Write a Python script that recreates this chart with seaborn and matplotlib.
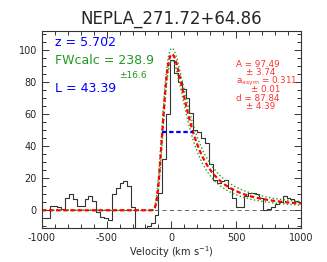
import numpy as np
import pandas as pd
import seaborn as sns
import matplotlib
matplotlib.use("Agg")
import matplotlib.pyplot as plt
from matplotlib.ticker import MultipleLocator

sns.set_theme(style="ticks")
plt.rcParams['font.family'] = ['DejaVu Sans']
plt.rcParams['axes.unicode_minus'] = False

title = 'NEPLA_271.72+64.86'

# observed spectrum, 30 km/s bins starting at -1000
bin_width = 30
flux = [-5, -5, 3, 3, 2, 1, 8, 10, 7, 3, 3, 7, 9, 6, -1, -4, -5, -6,
        10, 14, 17, 18, 15, 2, -20, -20, -20, -10, -8, -3, 11, 32, 60,
        94, 86, 80, 76, 70, 61, 50, 49, 45, 42, 29, 19, 17, 18, 19, 14,
        8, 2, 2, 9, 11, 11, 10, 8, 0, 1, 2, 4, 5, 9, 8, 7, 6, 5]

# asymmetric gaussian fit
amp, amp_err = 97.49, 3.74
a_asym, a_err = 0.311, 0.01
d_par, d_err = 87.84, 4.39
v_peak = 5
z = 5.702
fw_calc, fw_err = 238.9, 16.6
lum = 43.39
fw_left, fw_right = -69, 170


def skew_gauss(v, A, a, d):
    dv = v - v_peak
    sig = a * dv + d
    return A * np.exp(-dv ** 2 / (2 * sig ** 2))


vel = -1000 + bin_width * np.arange(len(flux)) + bin_width / 2
spec = pd.DataFrame({'vel': vel, 'flux': flux})

vgrid = np.linspace(-1000, 1000, 1001)
model = pd.DataFrame({
    'vel': vgrid,
    'fit': skew_gauss(vgrid, amp, a_asym, d_par),
    'hi': skew_gauss(vgrid, amp + amp_err, a_asym + a_err, d_par + d_err),
    'lo': skew_gauss(vgrid, amp - amp_err, a_asym - a_err, d_par - d_err),
})

fig = plt.figure(figsize=(3.27, 2.62), dpi=100)
ax = fig.add_axes([0.128, 0.130, 0.792, 0.752])

sns.lineplot(data=spec, x='vel', y='flux', drawstyle='steps-mid',
             color='0.2', lw=0.8, ax=ax)
ax.axhline(0, color='0.3', lw=0.6, dashes=(5, 4))
for key in ('hi', 'lo'):
    sns.lineplot(data=model, x='vel', y=key, color='#22a022', lw=1.0,
                 linestyle=':', ax=ax)
sns.lineplot(data=model, x='vel', y='fit', color='red', lw=1.6,
             dashes=(2, 1.2), ax=ax)
ax.plot([fw_left, fw_right], [amp / 2, amp / 2], color='blue', lw=1.6,
        dashes=(2, 1.2))

ax.set_xlim(-1000, 1000)
ax.set_ylim(-11, 112)
ax.xaxis.set_major_locator(MultipleLocator(500))
ax.xaxis.set_minor_locator(MultipleLocator(100))
ax.yaxis.set_major_locator(MultipleLocator(20))
ax.yaxis.set_minor_locator(MultipleLocator(5))
ax.tick_params(which='both', direction='in', top=True, right=True,
               labelsize=7, width=0.7, color='0.2')
ax.tick_params(which='major', length=5)
ax.tick_params(which='minor', length=3)
for sp in ax.spines.values():
    sp.set_linewidth(0.8)
    sp.set_color('0.2')

ax.set_xlabel('Velocity (km s$^{-1}$)', fontsize=7, labelpad=1)
ax.set_ylabel('')
ax.set_title(title, fontsize=12, pad=5)

tr = ax.transAxes
ax.text(0.05, 0.939, f'z = {z:.3f}', color='blue', fontsize=9,
        va='center', transform=tr)
ax.text(0.05, 0.848, f'FWcalc = {fw_calc}', color='#1f9a1f', fontsize=9,
        va='center', transform=tr)
ax.text(0.297, 0.772, f'±{fw_err}', color='#1f9a1f', fontsize=6.5,
        va='center', transform=tr)
ax.text(0.05, 0.706, f'L = {lum}', color='blue', fontsize=9,
        va='center', transform=tr)

red = '#ff3030'
ax.text(0.749, 0.831, f'A = {amp}', color=red, fontsize=6.3, va='center',
        transform=tr)
ax.text(0.788, 0.790, f'± {amp_err}', color=red, fontsize=6.3, va='center',
        transform=tr)
ax.text(0.749, 0.746, f'a$_{{\\rm asym}}$ = {a_asym}', color=red,
        fontsize=6.3, va='center', transform=tr)
ax.text(0.807, 0.704, f'± {a_err}', color=red, fontsize=6.3, va='center',
        transform=tr)
ax.text(0.749, 0.658, f'd = {d_par}', color=red, fontsize=6.3, va='center',
        transform=tr)
ax.text(0.788, 0.616, f'± {d_err}', color=red, fontsize=6.3, va='center',
        transform=tr)

fig.savefig('out.png', dpi=100)
